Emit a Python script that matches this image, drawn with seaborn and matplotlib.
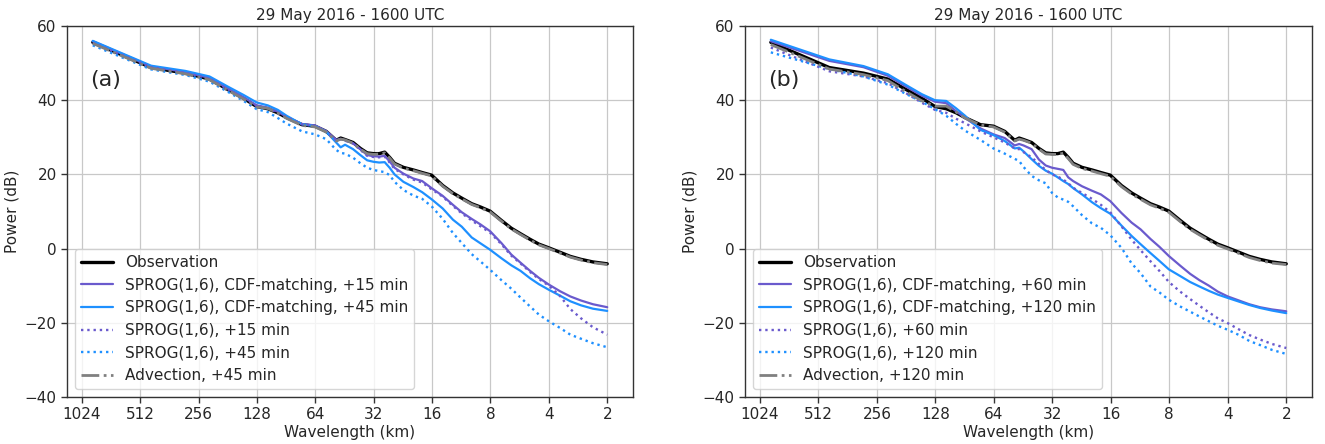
import numpy as np
import pandas as pd
import matplotlib
matplotlib.use("Agg")
import matplotlib.pyplot as plt
import seaborn as sns
from matplotlib.ticker import FixedLocator, FixedFormatter, NullLocator

# ---------------- data ----------------
wavelength_km = [900, 450, 300, 225, 180, 150, 128.6, 112.5, 100, 90, 75, 64.3, 56.25, 50,
                 47.4, 45, 40.9, 37.5, 34.6, 32.1, 30, 28.1, 26.5, 25, 22.5, 20, 18, 16.1,
                 14.1, 12.5, 11.25, 10, 9, 8.04, 7.03, 6.25, 5.6, 5, 4.5, 4, 3.5, 3.1, 2.73,
                 2.37, 2]

observation = [55.6, 48.8, 47.3, 45.7, 42.8, 40.5, 38.3, 37.7, 36.6, 35.3, 33.4, 33.0, 31.6, 29.2,
               29.8, 29.4, 28.6, 27.0, 25.8, 25.6, 25.6, 26.0, 24.6, 23.0, 21.9, 21.2, 20.5, 19.8,
               17.0, 15.0, 13.6, 12.1, 11.2, 10.1, 7.6, 5.5, 4.0, 2.5, 1.2, 0.2, -1.0, -2.1, -2.9,
               -3.6, -4.1]

# panel (a)
cdf_15 = [55.9, 49.1, 47.6, 46.0, 43.1, 40.8, 38.6, 38.0, 36.9, 35.5, 33.6, 33.2, 31.7, 29.3,
          29.6, 29.2, 28.4, 26.8, 25.2, 24.9, 24.8, 25.0, 23.5, 21.8, 20.2, 18.9, 18.2, 16.3,
          14.2, 11.8, 9.8, 8.0, 6.5, 4.7, 1.5, -1.6, -3.8, -6.0, -7.9, -9.7, -11.5, -12.9, -14.0,
          -15.0, -15.8]
cdf_45 = [56.0, 49.3, 47.9, 46.4, 43.6, 41.4, 39.4, 38.6, 37.4, 35.8, 33.5, 33.0, 31.5, 28.6,
          27.3, 28.0, 26.8, 25.2, 23.8, 23.4, 23.2, 23.3, 21.8, 20.0, 18.0, 16.6, 15.2, 13.3,
          10.8, 7.8, 5.9, 3.0, 1.4, -0.3, -2.6, -4.5, -6.0, -8.0, -9.6, -11.1, -12.7, -14.2, -15.3,
          -16.2, -16.8]
sprog_15 = [55.5, 48.9, 47.4, 45.8, 42.9, 40.6, 38.4, 37.8, 36.7, 35.4, 33.5, 33.1, 31.6, 29.2,
            29.5, 29.1, 28.3, 26.6, 25.0, 24.7, 24.6, 24.8, 23.2, 21.5, 20.0, 18.6, 17.8, 16.0,
            14.0, 11.5, 9.5, 7.6, 6.0, 4.3, 1.2, -1.9, -4.0, -6.3, -8.2, -10.0, -12.8, -16.3, -18.8,
            -21.2, -23.2]
sprog_45 = [54.8, 48.3, 46.8, 45.0, 42.2, 39.8, 37.6, 36.8, 35.2, 33.7, 31.6, 30.8, 29.5, 26.6,
            25.8, 25.6, 24.5, 23.0, 21.8, 21.2, 20.9, 20.6, 19.8, 18.0, 15.8, 14.3, 13.4, 11.4,
            8.0, 4.2, 1.5, -1.5, -3.5, -5.7, -8.5, -10.8, -13.2, -15.6, -17.8, -19.6, -21.4, -23.2,
            -24.3, -25.5, -26.6]
advection_45 = [55.3, 48.6, 47.1, 45.5, 42.6, 40.3, 38.2, 37.8, 36.5, 35.1, 33.2, 32.8, 31.4, 29.0,
                29.5, 29.3, 28.4, 26.8, 25.6, 25.4, 25.5, 25.8, 24.4, 22.8, 21.7, 21.0, 20.3, 19.6,
                16.8, 14.8, 13.4, 11.9, 11.0, 9.9, 7.4, 5.3, 3.8, 2.3, 1.0, 0.0, -1.2, -2.3, -3.1,
                -3.8, -4.3]

# panel (b)
cdf_60 = [55.9, 50.6, 48.9, 46.6, 43.6, 41.2, 39.6, 39.2, 37.0, 35.2, 32.4, 30.8, 29.8, 27.8,
          28.2, 27.8, 26.8, 24.0, 22.4, 21.8, 21.5, 21.2, 19.2, 18.2, 16.8, 15.6, 14.6, 12.8,
          9.6, 7.0, 5.2, 2.6, 0.5, -2.0, -4.6, -6.8, -8.5, -10.0, -11.6, -12.9, -14.0, -15.0,
          -15.8, -16.4, -16.9]
cdf_120 = [56.3, 51.0, 49.2, 47.0, 44.0, 41.6, 40.0, 39.8, 37.8, 35.8, 32.0, 30.6, 29.0, 27.0,
           27.2, 26.2, 24.1, 22.3, 21.0, 20.2, 19.2, 18.2, 17.4, 16.3, 14.6, 12.5, 10.9, 9.4,
           6.2, 3.4, 1.2, -1.2, -3.3, -5.6, -7.4, -9.0, -10.2, -11.4, -12.4, -13.3, -14.3, -15.2,
           -16.0, -16.7, -17.4]
sprog_60 = [54.2, 47.8, 46.4, 44.6, 41.8, 39.3, 37.4, 36.6, 35.0, 33.8, 31.6, 30.0, 28.6, 27.0,
            26.8, 26.0, 24.6, 22.8, 21.2, 20.0, 19.4, 18.6, 17.6, 16.4, 15.0, 13.4, 11.8, 9.8,
            6.0, 2.4, -0.4, -3.4, -6.0, -9.0, -11.6, -13.6, -15.4, -17.2, -18.8, -20.1, -21.8,
            -23.3, -24.5, -25.7, -26.8]
sprog_120 = [52.9, 48.4, 46.4, 44.2, 41.6, 39.6, 37.6, 35.8, 33.6, 31.8, 29.3, 27.0, 25.6, 24.2,
             23.6, 22.0, 19.6, 18.4, 17.6, 15.0, 13.8, 13.2, 12.6, 11.4, 9.0, 6.8, 5.6, 3.6,
             0.2, -4.0, -6.6, -10.2, -11.8, -13.8, -15.6, -17.0, -18.3, -19.6, -20.8, -21.9,
             -23.3, -24.9, -26.0, -27.3, -28.4]
advection_120 = [55.0, 48.4, 46.9, 45.3, 42.2, 39.8, 38.4, 38.4, 36.8, 35.2, 33.3, 32.8, 31.4, 29.0,
                 29.5, 29.2, 28.4, 26.8, 25.5, 25.4, 25.4, 25.7, 24.3, 22.7, 21.6, 20.9, 20.2, 19.5,
                 16.7, 14.7, 13.3, 11.8, 10.9, 9.8, 7.3, 5.2, 3.7, 2.2, 0.9, -0.1, -1.3, -2.4, -3.2,
                 -3.9, -4.3]

tick_values = [1024, 512, 256, 128, 64, 32, 16, 8, 4, 2]
tick_labels = ["1024", "512", "256", "128", "64", "32", "16", "8", "4", "2"]
title_text = "29 May 2016 - 1600 UTC"

PURPLE = "#6a5acd"
BLUE = "#1e90ff"

panels = [
    ("(a)", [("Observation", observation, "black", "-", 2.4),
             ("SPROG(1,6), CDF-matching, +15 min", cdf_15, PURPLE, "-", 1.6),
             ("SPROG(1,6), CDF-matching, +45 min", cdf_45, BLUE, "-", 1.6),
             ("SPROG(1,6), +15 min", sprog_15, PURPLE, ":", 1.7),
             ("SPROG(1,6), +45 min", sprog_45, BLUE, ":", 1.7),
             ("Advection, +45 min", advection_45, "gray", "-.", 2.0)]),
    ("(b)", [("Observation", observation, "black", "-", 2.4),
             ("SPROG(1,6), CDF-matching, +60 min", cdf_60, PURPLE, "-", 1.6),
             ("SPROG(1,6), CDF-matching, +120 min", cdf_120, BLUE, "-", 1.6),
             ("SPROG(1,6), +60 min", sprog_60, PURPLE, ":", 1.7),
             ("SPROG(1,6), +120 min", sprog_120, BLUE, ":", 1.7),
             ("Advection, +120 min", advection_120, "gray", "-.", 2.0)]),
]

# ---------------- plotting ----------------
sns.set_theme(style="ticks")
plt.rcParams["font.family"] = ["DejaVu Sans"]
plt.rcParams["font.size"] = 11

fig = plt.figure(figsize=(13.25, 4.44), dpi=100)
axes_boxes = [[0.0506, 0.1059, 0.4271, 0.8355], [0.5623, 0.1059, 0.4279, 0.8355]]

for (tag, series), box in zip(panels, axes_boxes):
    ax = fig.add_axes(box)
    for label, vals, col, ls, lw in series:
        df = pd.DataFrame({"wavelength": wavelength_km, "power": vals})
        sns.lineplot(data=df, x="wavelength", y="power", ax=ax, color=col,
                     linestyle=ls, linewidth=lw, label=label, sort=False)
    ax.set_xscale("log", base=2)
    ax.invert_xaxis()
    ax.xaxis.set_major_locator(FixedLocator(tick_values))
    ax.xaxis.set_major_formatter(FixedFormatter(tick_labels))
    ax.xaxis.set_minor_locator(NullLocator())
    ax.set_ylim(-40, 60)
    ax.set_yticks([-40, -20, 0, 20, 40, 60])
    ax.grid(True, color="#c8c8c8", linewidth=0.9)
    ax.tick_params(labelsize=11, length=4, width=1, color="#333333")
    for s in ax.spines.values():
        s.set_color("#333333")
        s.set_linewidth(1.0)
    ax.set_xlabel("Wavelength (km)", fontsize=11, labelpad=2)
    ax.set_ylabel("Power (dB)", fontsize=11)
    ax.set_title(title_text, fontsize=11, pad=4)
    ax.text(0.04, 0.855, tag, transform=ax.transAxes, fontsize=16, va="center", ha="left")
    ax.legend(loc="lower left", fontsize=11, frameon=True, framealpha=0.8,
              handlelength=2.1, handletextpad=0.8, labelspacing=0.5, borderaxespad=0.5)

fig.savefig("out.png", dpi=100)
